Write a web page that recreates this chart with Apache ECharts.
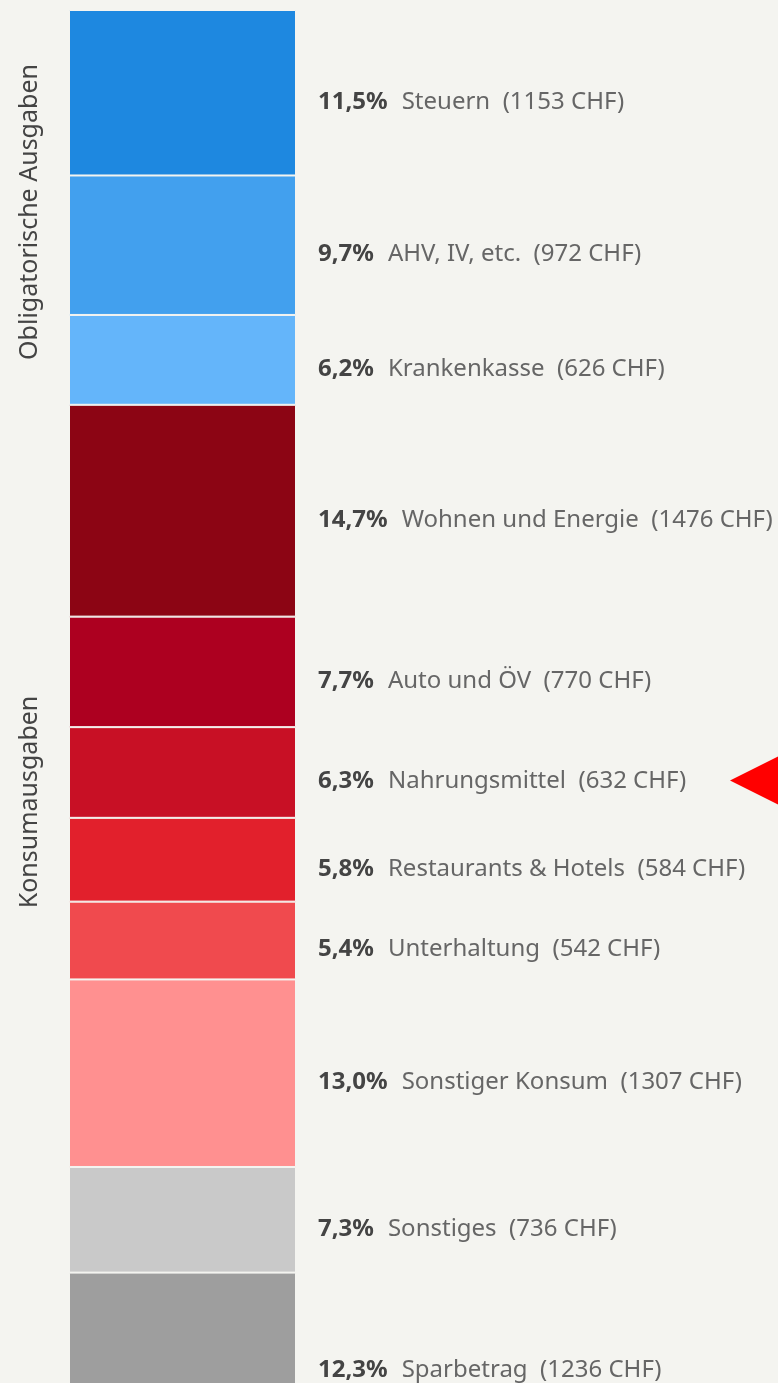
<!DOCTYPE html>
<html>
<head>
<meta charset="utf-8">
<script src="https://cdn.jsdelivr.net/npm/echarts@6/dist/echarts.min.js"></script>
<style>
  html, body { margin: 0; padding: 0; background: #f4f4f0; }
  #chart { width: 778px; height: 1383px; }
</style>
</head>
<body>
<div id="chart"></div>
<script>
const names = ['Steuern', 'AHV, IV, etc.', 'Krankenkasse', 'Wohnen und Energie', 'Auto und ÖV',
  'Nahrungsmittel', 'Restaurants & Hotels', 'Unterhaltung', 'Sonstiger Konsum', 'Sonstiges', 'Sparbetrag']
const chf = [1153, 972, 626, 1476, 770, 632, 584, 542, 1307, 736, 1236]
const pct = ['11,5%', '9,7%', '6,2%', '14,7%', '7,7%', '6,3%', '5,8%', '5,4%', '13,0%', '7,3%', '12,3%']
const colors = ['#1e88e0', '#42a0ee', '#64b5fa', '#8c0514', '#ad0020', '#c81025',
  '#e2202c', '#f04a4e', '#ff9090', '#c9c9c9', '#9e9e9e']
const groups = [
  { name: 'Obligatorische Ausgaben', y: 212 },
  { name: 'Konsumausgaben', y: 802 }
]

const total = chf.reduce((a, b) => a + b, 0)
const font = '"Noto Sans", sans-serif'

let chart = echarts.init(document.getElementById('chart'))

let series = names.map((n, i) => ({
  type: 'bar',
  name: n,
  stack: 'all',
  barWidth: 227,
  data: [chf[i]],
  itemStyle: { color: colors[i], borderColor: '#f4f4f0', borderWidth: 1 },
  label: {
    show: true,
    position: 'right',
    distance: 22,
    offset: [0, 9],
    formatter: () => `{p|${pct[i]}}{t|${n}\u00a0\u00a0(${chf[i]} CHF)}`,
    rich: {
      p: { fontFamily: font, fontSize: 24, fontWeight: 'bold', color: '#444', padding: [0, 14, 0, 0] },
      t: { fontFamily: font, fontSize: 24, color: '#666' }
    }
  },
  silent: true
}))

let arrowIdx = names.indexOf('Nahrungsmittel')
let before = chf.slice(0, arrowIdx).reduce((a, b) => a + b, 0)

chart.setOption({
  backgroundColor: '#f4f4f0',
  animation: false,
  grid: { left: 69, width: 227, top: 10, height: 1440, outerBoundsMode: 'none', containLabel: false },
  xAxis: { type: 'category', data: [''], show: false },
  yAxis: { type: 'value', inverse: true, min: 0, max: total, show: false },
  series: series
})

let ay = chart.convertToPixel({ yAxisIndex: 0 }, before + chf[arrowIdx] / 2) + 8

chart.setOption({
  graphic: groups.map(g => ({
    type: 'text',
    x: 30,
    y: g.y,
    rotation: Math.PI / 2,
    style: {
      text: g.name,
      font: `25px ${font}`,
      fill: '#444',
      align: 'center',
      verticalAlign: 'middle'
    }
  })).concat([{
    type: 'polygon',
    shape: { points: [[730, ay], [782, ay - 26], [782, ay + 26]] },
    style: { fill: '#ff0000' }
  }])
})
</script>
</body>
</html>
